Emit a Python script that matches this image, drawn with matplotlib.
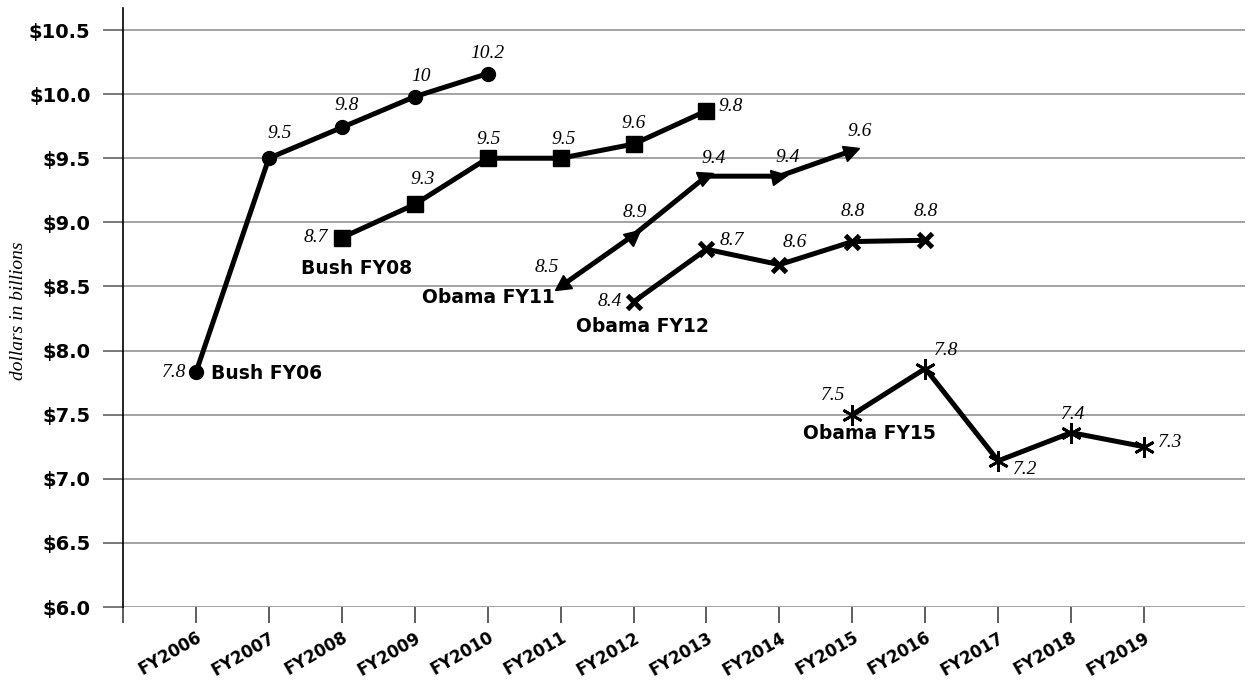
import numpy as np
import matplotlib
matplotlib.use("Agg")
import matplotlib.pyplot as plt
from matplotlib.markers import MarkerStyle
from matplotlib.transforms import Affine2D

# fiscal years on the x axis
years = list(range(2005, 2020))
year_labels = [""] + ["FY%d" % y for y in range(2006, 2020)]
y_ticks = [6.0, 6.5, 7.0, 7.5, 8.0, 8.5, 9.0, 9.5, 10.0, 10.5]

# budget requests (billions), one line per request
bush06_years = [2006, 2007, 2008, 2009, 2010]
bush06_vals = [7.83, 9.50, 9.74, 9.98, 10.16]
bush06_text = ["7.8", "9.5", "9.8", "10", "10.2"]

bush08_years = [2008, 2009, 2010, 2011, 2012, 2013]
bush08_vals = [8.88, 9.14, 9.50, 9.50, 9.61, 9.87]
bush08_text = ["8.7", "9.3", "9.5", "9.5", "9.6", "9.8"]

obama11_years = [2011, 2012, 2013, 2014, 2015]
obama11_vals = [8.50, 8.90, 9.36, 9.36, 9.56]
obama11_text = ["8.5", "8.9", "9.4", "9.4", "9.6"]

obama12_years = [2012, 2013, 2014, 2015, 2016]
obama12_vals = [8.38, 8.79, 8.67, 8.85, 8.86]
obama12_text = ["8.4", "8.7", "8.6", "8.8", "8.8"]

obama15_years = [2015, 2016, 2017, 2018, 2019]
obama15_vals = [7.50, 7.86, 7.14, 7.36, 7.25]
obama15_text = ["7.5", "7.8", "7.2", "7.4", "7.3"]

series_names = ["Bush FY06", "Bush FY08", "Obama FY11", "Obama FY12", "Obama FY15"]

# layout: value-label offsets in pixels (dx, dy, ha), dy positive = down
bush06_off = [(-10, 0, "right"), (11, -25, "center"), (5, -22, "center"),
              (6, -20, "center"), (0, -20, "center")]
bush08_off = [(-14, 0, "right"), (8, -25, "center"), (1, -19, "center"),
              (3, -19, "center"), (0, -21, "center"), (12, -4, "left")]
obama11_off = [(-14, -19, "center"), (1, -23, "center"), (7, -18, "center"),
               (8, -19, "center"), (7, -19, "center")]
obama12_off = [(-12, 0, "right"), (25, -9, "center"), (15, -22, "center"),
               (0, -30, "center"), (0, -29, "center")]
obama15_off = [(-19, -19, "center"), (21, -18, "center"), (27, 9, "center"),
               (2, -18, "center"), (14, -4, "left")]

# layout: series name positions (data coords, left aligned)
name_pos = [(2006.21, 7.82), (2007.44, 8.64), (2009.10, 8.41),
            (2011.21, 8.19), (2014.33, 7.35)]

W, H, DPI = 1252, 681, 100
fig = plt.figure(figsize=(W / DPI, H / DPI), dpi=DPI)
ax = fig.add_axes([123 / W, 1 - 607 / H, (1245 - 123) / W, (607 - 8) / H])
ax.set_xlim(2005, 2005 + (1245 - 122) / 73)
ax.set_ylim(6.0, 10.5 + 22 / 128.2)

grid_c = "#8a8a8a"
for yv in y_ticks:
    ax.axhline(yv, color=grid_c, lw=1.1, zorder=0)

for s in ["top", "right", "bottom"]:
    ax.spines[s].set_visible(False)
ax.spines["left"].set_color("black")
ax.spines["left"].set_linewidth(1.2)

ax.set_xticks(years)
ax.set_xticklabels(year_labels, rotation=30, ha="right", rotation_mode="anchor",
                   fontsize=12, fontweight="bold", family="DejaVu Sans")
ax.tick_params(axis="x", direction="out", length=11.5, width=1.1,
               color="#333333", pad=4)
ax.set_yticks(y_ticks)
ax.set_yticklabels(["$%.1f" % v for v in y_ticks], fontsize=14,
                   fontweight="bold", family="DejaVu Sans")
ax.tick_params(axis="y", direction="out", length=14.4, width=1.1,
               color="#555555", pad=9)

fig.text(19 / W, 1 - 311 / H, "dollars in billions", rotation=90,
         ha="center", va="center", family="Liberation Serif", style="italic",
         fontsize=14)

lw = 3.6
ax.plot(bush06_years, bush06_vals, color="black", lw=lw, marker="o",
        markersize=10, zorder=3)
ax.plot(bush08_years, bush08_vals, color="black", lw=lw, marker="s",
        markersize=11, zorder=3)
ax.plot(obama12_years, obama12_vals, color="black", lw=lw, marker="x",
        markersize=10, markeredgewidth=3.5, zorder=3)
ax.plot(obama15_years, obama15_vals, color="black", lw=lw, marker=(6, 2, 0),
        markersize=15, markeredgewidth=2, zorder=3)
ax.plot(obama11_years, obama11_vals, color="black", lw=lw, zorder=3)

# arrowhead markers for FY11, pointing along the line
pts = ax.transData.transform(np.column_stack([obama11_years, obama11_vals]))
n = len(pts)
for i in range(n):
    if i == 0:
        d = pts[0] - pts[1]
    elif i == n - 1:
        d = pts[i] - pts[i - 1]
    else:
        d = pts[i + 1] - pts[i - 1]
    ang = np.degrees(np.arctan2(d[1], d[0]))
    m = MarkerStyle(">")
    m = m.transformed(Affine2D().rotate_deg(ang))
    ax.plot([obama11_years[i]], [obama11_vals[i]], marker=m, color="black",
            markersize=11, linestyle="none", zorder=4)

k = 0.72
all_series = [
    (bush06_years, bush06_vals, bush06_text, bush06_off),
    (bush08_years, bush08_vals, bush08_text, bush08_off),
    (obama11_years, obama11_vals, obama11_text, obama11_off),
    (obama12_years, obama12_vals, obama12_text, obama12_off),
    (obama15_years, obama15_vals, obama15_text, obama15_off),
]
for xs, ys, txts, offs in all_series:
    for x, y, t, (dx, dy, ha) in zip(xs, ys, txts, offs):
        ax.annotate(t, (x, y), xytext=(dx * k, -dy * k),
                    textcoords="offset points", ha=ha, va="center",
                    family="Liberation Serif", style="italic", fontsize=14,
                    zorder=5)

for name, (x, y) in zip(series_names, name_pos):
    ax.text(x, y, name, ha="left", va="center", fontsize=13.5,
            fontweight="bold", family="DejaVu Sans", zorder=5)

fig.savefig("out.png", dpi=DPI)
